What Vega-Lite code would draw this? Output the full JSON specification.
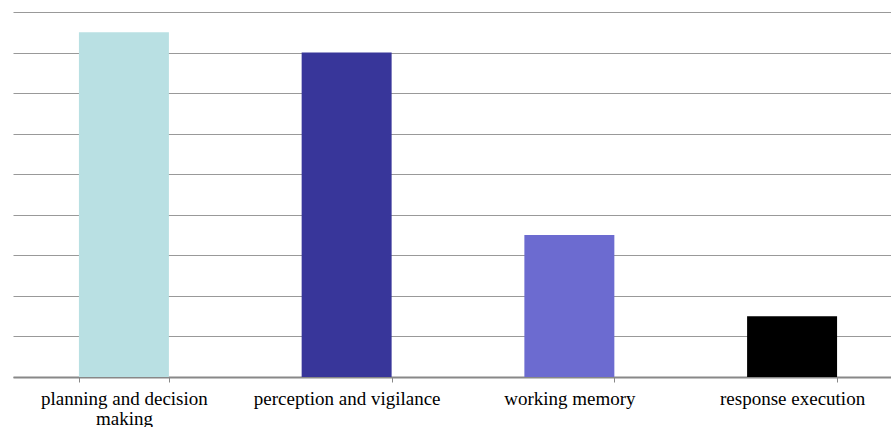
{
  "$schema": "https://vega.github.io/schema/vega-lite/v6.json",
  "width": 890,
  "height": 365,
  "autosize": {"type": "none"},
  "padding": {"left": 13, "top": 12, "right": 0, "bottom": 50},
  "background": "white",
  "config": {"view": {"stroke": null}},
  "data": {"values": [
    {"category": "planning and decision making", "value": 8.5},
    {"category": "perception and vigilance", "value": 8},
    {"category": "working memory", "value": 3.5},
    {"category": "response execution", "value": 1.5}
  ]},
  "mark": {"type": "bar"},
  "encoding": {
    "x": {
      "field": "category", "type": "nominal", "sort": null,
      "scale": {"paddingInner": 0.596, "paddingOuter": 0.296},
      "axis": {
        "title": null, "labelAngle": 0, "tickBand": "extent",
        "domainColor": "#888888", "domainWidth": 2,
        "tickColor": "#888888", "tickSize": 5, "tickWidth": 1,
        "labelFont": "Liberation Serif", "labelFontSize": 19, "labelColor": "#000000",
        "labelPadding": 7, "labelLineHeight": 20, "labelLimit": 300,
        "labelExpr": "datum.label == 'planning and decision making' ? ['planning and decision', 'making'] : datum.label"
      }
    },
    "y": {
      "field": "value", "type": "quantitative",
      "scale": {"domain": [0, 9], "nice": false},
      "axis": {
        "title": null, "labels": false, "ticks": false, "domain": false,
        "values": [0, 1, 2, 3, 4, 5, 6, 7, 8, 9],
        "gridColor": "#999999", "gridWidth": 1, "gridOpacity": 1
      }
    },
    "color": {
      "field": "category", "type": "nominal", "sort": null, "legend": null,
      "scale": {"range": ["#B9E0E3", "#38369A", "#6C6BD0", "#000000"]}
    }
  }
}
